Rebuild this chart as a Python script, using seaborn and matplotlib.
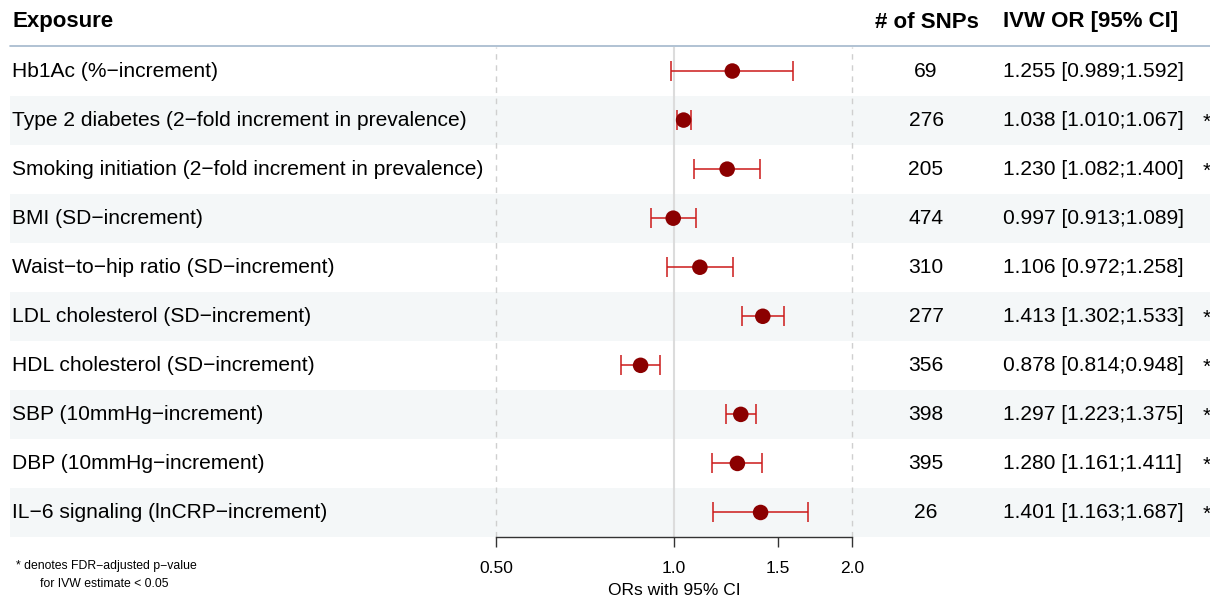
import numpy as np
import pandas as pd
import seaborn as sns
import matplotlib.pyplot as plt
from matplotlib.ticker import FixedLocator, NullLocator

# data
exposures = [
    "Hb1Ac (%\u2212increment)",
    "Type 2 diabetes (2\u2212fold increment in prevalence)",
    "Smoking initiation (2\u2212fold increment in prevalence)",
    "BMI (SD\u2212increment)",
    "Waist\u2212to\u2212hip ratio (SD\u2212increment)",
    "LDL cholesterol (SD\u2212increment)",
    "HDL cholesterol (SD\u2212increment)",
    "SBP (10mmHg\u2212increment)",
    "DBP (10mmHg\u2212increment)",
    "IL\u22126 signaling (lnCRP\u2212increment)",
]
n_snps = [69, 276, 205, 474, 310, 277, 356, 398, 395, 26]
or_est = [1.255, 1.038, 1.230, 0.997, 1.106, 1.413, 0.878, 1.297, 1.280, 1.401]
ci_low = [0.989, 1.010, 1.082, 0.913, 0.972, 1.302, 0.814, 1.223, 1.161, 1.163]
ci_high = [1.592, 1.067, 1.400, 1.089, 1.258, 1.533, 0.948, 1.375, 1.411, 1.687]
signif = [False, True, True, False, False, True, True, True, True, True]
xticks = [0.5, 1.0, 1.5, 2.0]
xtick_labels = ["0.50", "1.0", "1.5", "2.0"]

df = pd.DataFrame({"exposure": exposures, "snps": n_snps, "or": or_est,
                   "lo": ci_low, "hi": ci_high, "sig": signif})
df["row"] = np.arange(len(df))

sns.set_theme(style="white")
plt.rcParams["font.family"] = ["Liberation Sans", "DejaVu Sans"]
plt.rcParams["text.color"] = "black"
plt.rcParams["axes.labelcolor"] = "black"
plt.rcParams["xtick.color"] = "black"

W, H = 1210, 598
fig = plt.figure(figsize=(W / 100, H / 100), dpi=100)

top, bottom = 46.5, 537.0
n = len(df)

def fig_box(x0, x1):
    return [x0 / W, 1 - bottom / H, (x1 - x0) / W, (bottom - top) / H]

# background / table axes in pixel x, row-index y
ax_bg = fig.add_axes(fig_box(0, W))
ax_bg.set_xlim(0, W)
ax_bg.set_ylim(n - 0.5, -0.5)
ax_bg.axis("off")
for r in df["row"]:
    if r % 2 == 1:
        ax_bg.fill_between([10, W], r - 0.5, r + 0.5, color="#f4f7f8", lw=0, zorder=0)
ax_bg.plot([10, W], [-0.5, -0.5], color="#a3b8cc", lw=1.2, clip_on=False)

fs = 15.1
for _, d in df.iterrows():
    ax_bg.text(12, d["row"], d["exposure"], ha="left", va="center", fontsize=fs)
    ax_bg.text(926, d["row"], str(d["snps"]), ha="center", va="center", fontsize=fs)
    ax_bg.text(1003, d["row"], f"{d['or']:.3f} [{d['lo']:.3f};{d['hi']:.3f}]",
               ha="left", va="center", fontsize=fs)
    if d["sig"]:
        ax_bg.text(1207, d["row"] + 0.04, "*", ha="center", va="center", fontsize=fs)

hfs = 16
fig.text(12 / W, 1 - 22 / H, "Exposure", ha="left", va="center", fontsize=hfs, fontweight="bold")
fig.text(927 / W, 1 - 22 / H, "# of SNPs", ha="center", va="center", fontsize=hfs, fontweight="bold")
fig.text(1003 / W, 1 - 22 / H, "IVW OR [95% CI]", ha="left", va="center", fontsize=hfs, fontweight="bold")

fig.text(16 / W, 1 - 566 / H, "* denotes FDR\u2212adjusted p\u2212value", ha="left", va="center", fontsize=8.8)
fig.text(40 / W, 1 - 584 / H, "for IVW estimate < 0.05", ha="left", va="center", fontsize=8.8)

# forest axes
ax = fig.add_axes(fig_box(496, 852))
ax.patch.set_alpha(0)
ax.set_xscale("log", base=2)
ax.set_xlim(0.5, 2.0)
ax.set_ylim(n - 0.5, -0.5)

ax.axvline(1.0, color="#dcdcdc", lw=1.5, zorder=1)
for v in (0.5, 2.0):
    ax.axvline(v, color="#cfcfcf", lw=1, ls=(0, (4, 4)), zorder=1, clip_on=False)

ax.errorbar(df["or"], df["row"],
            xerr=[df["or"] - df["lo"], df["hi"] - df["or"]],
            fmt="none", ecolor="#cc1a1a", elinewidth=1.1, capsize=7, capthick=1.1, zorder=2)
sns.scatterplot(data=df, x="or", y="row", ax=ax, color="#8b0000", s=125,
                edgecolor="none", zorder=3, legend=False)

for side in ("top", "right", "left"):
    ax.spines[side].set_visible(False)
ax.spines["bottom"].set_color("#333333")
ax.spines["bottom"].set_linewidth(1)
ax.xaxis.set_major_locator(FixedLocator(xticks))
ax.xaxis.set_minor_locator(NullLocator())
ax.set_xticklabels(xtick_labels)
ax.tick_params(axis="x", bottom=True, direction="out", length=7, width=1,
               color="#333333", labelsize=12.5, pad=10)
ax.set_yticks([])
ax.set_ylabel("")
ax.set_xlabel("ORs with 95% CI", fontsize=12.5, labelpad=5)

fig.savefig("out.png", dpi=100)
